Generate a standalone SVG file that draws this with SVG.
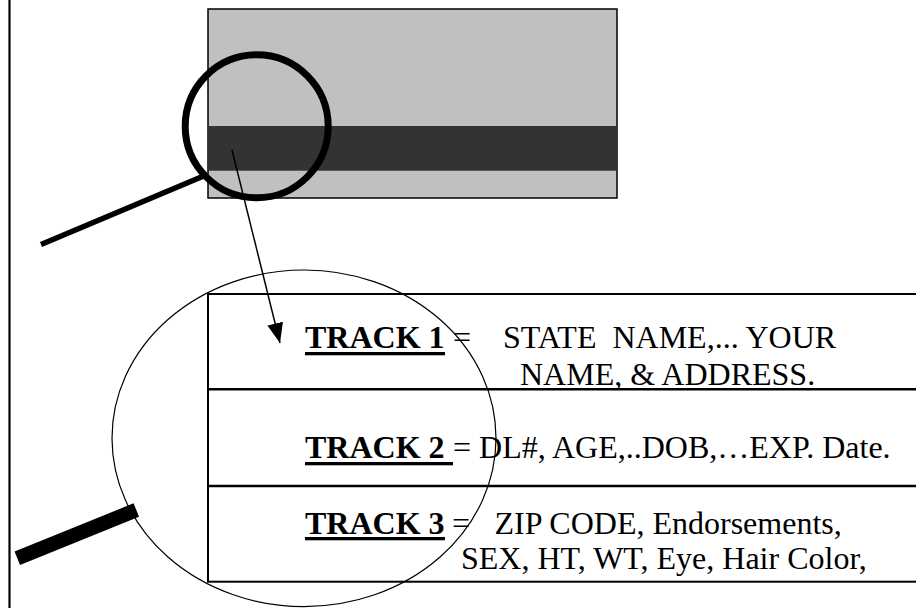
<svg xmlns="http://www.w3.org/2000/svg" width="916" height="608" viewBox="0 0 916 608">
<style>
.t{font-family:"Liberation Serif","Tinos","Times New Roman","DejaVu Serif",serif;font-size:32px;fill:#000;white-space:pre}
.b{font-weight:bold}
.ln{stroke:#000;stroke-width:2;fill:none}
</style>
<defs>
<marker id="ah" markerUnits="userSpaceOnUse" markerWidth="22" markerHeight="18" refX="20" refY="8" orient="auto">
<path d="M0,0 L20,8 L0,16 Z" fill="#000"/>
</marker>
</defs>
<rect width="916" height="608" fill="#fff"/>
<line x1="9.5" y1="0" x2="9.5" y2="608" stroke="#000" stroke-width="2.2"/>
<g id="card">
<rect x="208" y="9" width="409" height="189" fill="#c0c0c0" stroke="#000" stroke-width="1.5"/>
<rect x="208.8" y="126" width="407.5" height="44.7" fill="#333"/>
</g>
<g id="magnifier-top">
<circle cx="256.7" cy="126.3" r="71.5" fill="none" stroke="#000" stroke-width="7"/>
<line x1="41" y1="244.5" x2="206" y2="175" stroke="#000" stroke-width="5.5"/>
</g>
<g id="table">
<rect x="208" y="294" width="720" height="287.7" class="ln"/>
<line x1="208" y1="389.3" x2="916" y2="389.3" stroke="#000" stroke-width="2.5"/>
<line x1="208" y1="486" x2="916" y2="486" stroke="#000" stroke-width="2.5"/>
</g>
<g id="track1">
<text class="t b" x="305" y="348" font-family="Liberation Serif, serif">TRACK 1</text>
<rect x="305" y="352" width="140" height="3.3" fill="#000"/>
<text class="t" x="453" y="348">=</text>
<text class="t" x="503" y="348">STATE  NAME,... YOUR</text>
<text class="t" x="520" y="385">NAME, &amp; ADDRESS.</text>
</g>
<g id="track2">
<text class="t b" x="305" y="458">TRACK 2</text>
<rect x="305" y="462" width="148" height="3.3" fill="#000"/>
<text class="t" x="453" y="458">= DL#, AGE,..DOB,…EXP. Date.</text>
</g>
<g id="track3">
<text class="t b" x="305" y="533.5">TRACK 3</text>
<rect x="305" y="537" width="140" height="3.3" fill="#000"/>
<text class="t" x="452" y="533.5">=</text>
<text class="t" x="494.5" y="533.5">ZIP CODE, Endorsements,</text>
<text class="t" x="461" y="569">SEX, HT, WT, Eye, Hair Color,</text>
</g>
<g id="magnifier-bottom">
<ellipse cx="304" cy="438.3" rx="192" ry="168.3" fill="none" stroke="#000" stroke-width="1.2"/>
<line x1="17.3" y1="558.3" x2="136.3" y2="510" stroke="#000" stroke-width="14.5"/>
</g>
<g id="connectors">
<line x1="232" y1="150" x2="280" y2="343" stroke="#000" stroke-width="1.5" marker-end="url(#ah)"/>
</g>
</svg>
